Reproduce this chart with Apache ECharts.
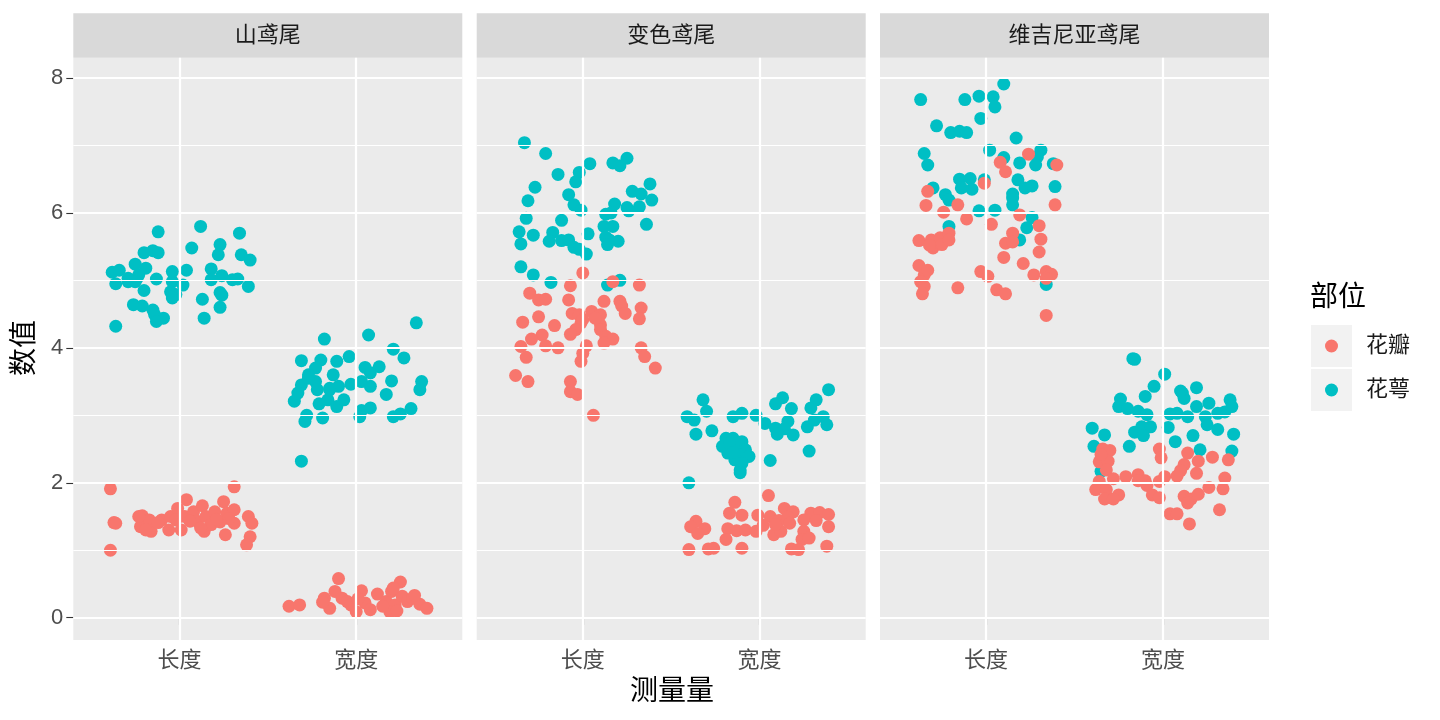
<!DOCTYPE html>
<html>
<head>
<meta charset="utf-8">
<script src="https://cdn.jsdelivr.net/npm/echarts@6/dist/echarts.min.js"></script>
<style>html,body{margin:0;padding:0;background:#fff}#c{width:1440px;height:720px}</style>
</head>
<body>
<div id="c"></div>
<script>
// facet names, categories, parts
const facets = ['山鸢尾', '变色鸢尾', '维吉尼亚鸢尾'];
const measures = ['长度', '宽度'];
const parts = ['花瓣', '花萼'];
const yTicks = [0, 2, 4, 6, 8];

// [jitter offset, value] pairs
const setosaSepalLength = [[-0.12,5.72],[0.12,5.80],[0.34,5.70],[0.07,5.48],[0.23,5.53],[0.22,5.38],[-0.20,5.41],[-0.15,5.44],[-0.12,5.41],[0.35,5.38],[0.40,5.30],[-0.25,5.24],[-0.19,5.18],[-0.38,5.12],[-0.34,5.15],[-0.36,4.95],[-0.29,5.03],[-0.24,5.03],[-0.23,5.08],[-0.13,5.02],[-0.04,5.13],[0.04,5.15],[-0.04,4.98],[0.02,4.93],[-0.05,4.83],[-0.02,4.79],[-0.04,4.74],[0.18,5.17],[0.18,5.01],[0.24,5.07],[0.30,5.01],[0.33,5.02],[0.39,4.91],[0.23,4.82],[0.24,4.78],[-0.20,4.85],[0.13,4.72],[-0.26,4.64],[-0.21,4.62],[-0.15,4.56],[-0.14,4.49],[-0.09,4.44],[-0.13,4.39],[0.23,4.60],[0.14,4.44],[-0.36,4.32],[-0.29,4.98],[-0.25,4.98]];
const setosaPetalLength = [[-0.39,1.91],[-0.37,1.41],[-0.36,1.40],[-0.39,1.00],[0.31,1.94],[-0.21,1.51],[-0.22,1.35],[-0.17,1.45],[-0.16,1.28],[-0.19,1.30],[-0.10,1.45],[-0.06,1.30],[-0.05,1.50],[-0.01,1.62],[0.04,1.75],[0.01,1.30],[0.03,1.50],[0.08,1.57],[0.10,1.43],[0.13,1.66],[0.15,1.50],[0.14,1.28],[0.18,1.38],[0.20,1.57],[0.25,1.72],[0.27,1.55],[0.26,1.23],[0.31,1.60],[0.31,1.40],[0.28,1.47],[0.39,1.50],[0.41,1.40],[0.40,1.20],[0.38,1.08],[0.23,1.42],[-0.02,1.45],[0.06,1.43],[-0.12,1.41],[0.21,1.46],[0.12,1.33],[-0.23,1.50]];
const setosaSepalWidth = [[-0.18,4.13],[0.07,4.19],[0.34,4.37],[-0.31,3.81],[-0.20,3.82],[-0.11,3.80],[-0.04,3.87],[0.21,3.98],[0.27,3.85],[-0.23,3.70],[-0.27,3.60],[-0.13,3.60],[0.05,3.71],[0.13,3.72],[0.08,3.63],[-0.31,3.45],[-0.23,3.50],[-0.22,3.38],[-0.15,3.40],[-0.10,3.43],[-0.03,3.46],[0.03,3.50],[0.08,3.43],[0.20,3.51],[0.37,3.50],[0.36,3.38],[-0.35,3.21],[-0.33,3.33],[-0.21,3.17],[-0.16,3.23],[-0.11,3.13],[-0.07,3.23],[0.17,3.31],[0.03,3.07],[0.02,2.98],[0.08,3.11],[-0.28,3.00],[-0.29,2.91],[-0.19,2.96],[0.21,2.98],[0.25,3.02],[0.31,3.10],[-0.31,2.32],[-0.15,3.38],[-0.27,3.55]];
const setosaPetalWidth = [[-0.38,0.17],[-0.32,0.19],[-0.10,0.58],[-0.18,0.29],[-0.12,0.39],[-0.15,0.14],[-0.08,0.29],[-0.05,0.24],[0.00,0.09],[-0.03,0.19],[0.03,0.40],[0.05,0.22],[0.08,0.12],[0.12,0.35],[0.17,0.24],[0.20,0.39],[0.25,0.53],[0.22,0.19],[0.26,0.32],[0.29,0.24],[0.32,0.29],[0.36,0.20],[0.40,0.14],[0.19,0.09],[0.23,0.10],[-0.19,0.23],[0.01,0.28],[0.15,0.17],[0.21,0.44],[0.33,0.33]];

const versicolorSepalLength = [[-0.33,7.04],[-0.21,6.88],[0.04,6.73],[0.17,6.74],[0.21,6.70],[0.25,6.81],[-0.14,6.57],[-0.02,6.60],[-0.04,6.46],[-0.27,6.38],[0.38,6.43],[0.28,6.32],[0.33,6.28],[0.39,6.19],[-0.08,6.27],[-0.31,6.18],[-0.05,6.12],[-0.01,6.04],[0.18,6.13],[0.25,6.08],[0.32,6.09],[0.26,6.03],[-0.32,5.92],[-0.12,5.89],[0.13,5.98],[0.16,6.00],[-0.36,5.72],[-0.35,5.54],[-0.28,5.67],[-0.17,5.71],[-0.19,5.58],[-0.12,5.59],[-0.08,5.60],[-0.05,5.49],[-0.02,5.46],[0.02,5.39],[0.03,5.69],[0.12,5.80],[0.17,5.80],[0.36,5.83],[0.13,5.64],[0.15,5.60],[0.20,5.58],[0.14,5.53],[-0.35,5.20],[-0.28,5.08],[-0.18,4.97],[0.21,5.00],[0.14,4.93]];
const versicolorPetalLength = [[0.00,5.11],[-0.07,4.92],[0.17,4.98],[0.32,4.93],[-0.30,4.81],[-0.25,4.71],[-0.21,4.72],[-0.08,4.71],[0.12,4.69],[0.21,4.69],[0.22,4.62],[0.33,4.59],[0.32,4.43],[0.24,4.51],[-0.06,4.51],[-0.02,4.49],[0.05,4.54],[0.10,4.49],[-0.25,4.46],[-0.34,4.38],[-0.16,4.33],[-0.01,4.37],[0.10,4.34],[-0.04,4.27],[0.10,4.27],[-0.23,4.19],[-0.29,4.13],[-0.07,4.20],[0.13,4.17],[0.17,4.13],[0.12,4.07],[-0.35,4.02],[-0.21,4.03],[-0.14,4.00],[0.02,4.03],[0.33,4.00],[-0.32,3.86],[0.00,3.92],[-0.01,3.80],[0.35,3.87],[0.41,3.70],[-0.38,3.59],[-0.31,3.50],[-0.07,3.50],[-0.07,3.35],[-0.03,3.31],[0.06,3.00],[0.00,4.42],[0.07,4.44]];
const versicolorSepalWidth = [[0.39,3.38],[-0.32,3.23],[0.13,3.26],[0.09,3.17],[0.32,3.23],[0.18,3.10],[0.29,3.11],[-0.30,3.06],[-0.10,3.03],[-0.15,2.98],[-0.02,3.00],[-0.41,2.98],[-0.37,2.93],[0.03,2.88],[0.09,2.81],[0.16,2.91],[0.14,2.80],[0.19,2.71],[0.27,2.83],[0.31,2.93],[0.36,2.98],[0.38,2.86],[0.10,2.72],[-0.36,2.72],[-0.27,2.77],[-0.19,2.66],[-0.15,2.66],[-0.10,2.61],[-0.21,2.54],[-0.13,2.51],[-0.08,2.49],[-0.18,2.44],[-0.10,2.41],[-0.06,2.39],[-0.14,2.34],[-0.10,2.29],[-0.11,2.19],[-0.11,2.15],[0.28,2.47],[0.06,2.33],[-0.40,2.00],[-0.17,2.59],[-0.15,2.45]];
const versicolorPetalWidth = [[0.05,1.81],[-0.14,1.71],[-0.17,1.55],[-0.10,1.52],[-0.01,1.52],[0.06,1.50],[0.14,1.62],[0.19,1.57],[0.29,1.55],[0.34,1.56],[0.39,1.53],[-0.36,1.43],[0.09,1.43],[0.11,1.44],[0.16,1.49],[0.25,1.45],[0.32,1.44],[-0.39,1.35],[-0.31,1.32],[-0.18,1.32],[-0.13,1.29],[-0.08,1.30],[-0.02,1.28],[0.02,1.37],[0.08,1.23],[0.12,1.28],[0.25,1.28],[0.39,1.35],[-0.35,1.25],[-0.19,1.16],[0.24,1.16],[0.28,1.18],[-0.40,1.01],[-0.29,1.02],[-0.26,1.03],[-0.10,1.03],[0.18,1.02],[0.22,1.01],[0.38,1.06],[0.09,1.38],[0.17,1.40]];

const virginicaSepalLength = [[0.10,7.91],[-0.37,7.68],[-0.12,7.68],[-0.04,7.73],[0.04,7.72],[0.05,7.57],[-0.03,7.40],[-0.28,7.29],[-0.20,7.19],[-0.15,7.21],[-0.11,7.19],[0.17,7.11],[-0.35,6.88],[-0.33,6.71],[0.02,6.93],[0.10,6.82],[0.31,6.93],[0.29,6.83],[0.19,6.74],[0.28,6.71],[0.38,6.73],[-0.15,6.50],[-0.09,6.51],[-0.14,6.37],[-0.08,6.35],[-0.30,6.37],[-0.23,6.27],[-0.21,6.19],[0.18,6.49],[0.22,6.37],[0.26,6.40],[0.15,6.28],[0.39,6.39],[-0.01,6.49],[0.15,6.22],[-0.04,6.03],[0.05,6.04],[0.15,6.12],[0.26,5.93],[0.23,5.78],[0.19,5.60],[-0.21,5.80],[0.34,4.94]];
const virginicaPetalLength = [[0.24,6.87],[0.08,6.75],[0.11,6.61],[0.40,6.71],[-0.01,6.44],[-0.33,6.32],[-0.34,6.11],[-0.16,6.12],[-0.24,6.01],[0.39,6.12],[-0.11,5.91],[0.03,5.83],[0.19,5.97],[0.30,5.81],[-0.38,5.59],[-0.31,5.60],[-0.26,5.63],[-0.21,5.70],[-0.30,5.48],[-0.25,5.53],[-0.21,5.60],[-0.32,5.52],[0.15,5.70],[0.11,5.55],[0.15,5.57],[0.31,5.61],[0.30,5.42],[0.10,5.34],[0.21,5.25],[-0.38,5.22],[-0.35,5.08],[-0.37,4.98],[-0.35,4.91],[-0.36,4.80],[-0.03,5.13],[0.01,5.06],[-0.16,4.89],[0.06,4.86],[0.11,4.80],[0.27,5.08],[0.34,5.13],[0.37,5.09],[0.34,4.48],[-0.33,5.15],[0.34,5.03]];
const virginicaSepalWidth = [[-0.17,3.84],[-0.16,3.83],[0.01,3.61],[-0.05,3.43],[0.19,3.41],[-0.24,3.24],[-0.10,3.28],[0.11,3.33],[0.12,3.25],[0.38,3.23],[0.26,3.18],[-0.25,3.13],[-0.20,3.10],[-0.14,3.06],[-0.09,3.01],[0.04,3.02],[0.08,3.03],[0.14,2.98],[0.19,3.13],[0.24,2.98],[0.31,3.03],[0.35,3.05],[0.39,3.13],[-0.40,2.81],[-0.33,2.71],[-0.39,2.54],[-0.19,2.54],[-0.16,2.75],[-0.12,2.83],[-0.07,2.83],[0.03,2.82],[0.07,2.61],[0.17,2.70],[0.25,2.86],[0.31,2.79],[0.40,2.72],[0.39,2.47],[0.21,2.49],[-0.35,2.17],[-0.11,2.70],[0.10,3.36]];
const virginicaPetalWidth = [[-0.34,2.50],[-0.30,2.48],[-0.02,2.50],[-0.01,2.37],[0.14,2.44],[0.28,2.38],[0.37,2.34],[-0.36,2.31],[-0.31,2.32],[0.20,2.32],[0.12,2.27],[-0.32,2.19],[0.10,2.18],[0.19,2.14],[0.08,2.10],[-0.21,2.09],[-0.14,2.12],[0.01,2.09],[-0.28,2.06],[-0.36,2.02],[-0.10,2.03],[-0.09,1.96],[-0.02,2.02],[0.35,2.07],[0.34,1.91],[0.26,1.93],[-0.38,1.90],[-0.32,1.90],[-0.25,1.82],[-0.33,1.76],[-0.28,1.76],[-0.06,1.82],[-0.02,1.78],[0.12,1.80],[0.16,1.76],[0.20,1.83],[0.14,1.70],[0.32,1.60],[0.04,1.54],[0.08,1.54],[0.15,1.39],[-0.35,2.42],[-0.14,2.03]];

const petalData = [
  [setosaPetalLength, setosaPetalWidth],
  [versicolorPetalLength, versicolorPetalWidth],
  [virginicaPetalLength, virginicaPetalWidth]
];
const sepalData = [
  [setosaSepalLength, setosaSepalWidth],
  [versicolorSepalLength, versicolorSepalWidth],
  [virginicaSepalLength, virginicaSepalWidth]
];

const colors = {'花瓣': '#F8766D', '花萼': '#00BFC4'};
const FONT = "'Liberation Sans', 'Noto Sans CJK SC', sans-serif";
const gridLefts = [73.3, 476.7, 880];
const gridW = 389;
const gridTop = 57.7;
const gridH = 582.3;

function toPoints(pair) {
  return pair[0].map(d => [1 + d[0], d[1]]).concat(pair[1].map(d => [2 + d[0], d[1]]));
}

const grids = [], xAxes = [], yAxes = [], series = [], graphics = [];
facets.forEach((name, i) => {
  grids.push({left: gridLefts[i], top: gridTop, width: gridW, height: gridH,
    show: true, backgroundColor: '#EBEBEB', borderWidth: 0});
  xAxes.push({gridIndex: i, type: 'value', min: 0.4, max: 2.6,
    axisLine: {show: false}, splitLine: {show: false},
    axisTick: {show: true, customValues: [1, 2], length: 7, lineStyle: {color: '#333333', width: 1.1}},
    axisLabel: {customValues: [1, 2], formatter: v => measures[Math.round(v) - 1],
      color: '#4D4D4D', fontSize: 22, fontFamily: FONT, margin: 10}});
  yAxes.push({gridIndex: i, type: 'value', min: -0.33, max: 8.3,
    axisLine: {show: false}, splitLine: {show: false},
    axisTick: {show: i === 0, customValues: yTicks, length: 7, lineStyle: {color: '#333333', width: 1.1}},
    axisLabel: {show: i === 0, customValues: yTicks, color: '#4D4D4D', fontSize: 22, fontFamily: FONT, margin: 10}});
  // grid lines
  const lines = [];
  [1, 3, 5, 7].forEach(v => lines.push({yAxis: v, lineStyle: {width: 1.1}}));
  yTicks.forEach(v => lines.push({yAxis: v, lineStyle: {width: 2.2}}));
  [1, 2].forEach(v => lines.push({xAxis: v, lineStyle: {width: 2.2}}));
  series.push({type: 'scatter', xAxisIndex: i, yAxisIndex: i, data: [], z: 1, silent: true,
    markLine: {silent: true, symbol: ['none', 'none'], label: {show: false}, animation: false,
      lineStyle: {color: '#FFFFFF', type: 'solid'}, data: lines}});
  series.push({name: '花萼', type: 'scatter', xAxisIndex: i, yAxisIndex: i, z: 3,
    symbolSize: 13, itemStyle: {color: colors['花萼'], opacity: 1}, data: toPoints(sepalData[i])});
  series.push({name: '花瓣', type: 'scatter', xAxisIndex: i, yAxisIndex: i, z: 3,
    symbolSize: 13, itemStyle: {color: colors['花瓣'], opacity: 1}, data: toPoints(petalData[i])});
  // strip
  graphics.push({type: 'rect', shape: {x: gridLefts[i], y: 13.3, width: gridW, height: 44.4},
    style: {fill: '#D9D9D9'}, silent: true});
  graphics.push({type: 'text', x: gridLefts[i] + gridW / 2, y: 35.5,
    style: {text: name, fontSize: 22, fontFamily: FONT, fill: '#1A1A1A', align: 'center', verticalAlign: 'middle'}});
});

// axis titles
graphics.push({type: 'text', x: 672, y: 692, style: {text: '测量量', fontSize: 28, fontFamily: FONT, fill: '#000', align: 'center', verticalAlign: 'middle'}});
graphics.push({type: 'text', x: 25, y: 348, rotation: Math.PI / 2, style: {text: '数值', fontSize: 28, fontFamily: FONT, fill: '#000', align: 'center', verticalAlign: 'middle'}});
// legend
graphics.push({type: 'text', x: 1310, y: 298, style: {text: '部位', fontSize: 28, fontFamily: FONT, fill: '#000', align: 'left', verticalAlign: 'middle'}});
parts.forEach((p, k) => {
  const cy = 346 + k * 44;
  graphics.push({type: 'rect', shape: {x: 1311, y: cy - 21, width: 41, height: 42}, style: {fill: '#F2F2F2'}});
  graphics.push({type: 'circle', shape: {cx: 1331.5, cy: cy, r: 6.5}, style: {fill: colors[p]}});
  graphics.push({type: 'text', x: 1366, y: cy, style: {text: p, fontSize: 22, fontFamily: FONT, fill: '#1A1A1A', align: 'left', verticalAlign: 'middle'}});
});

const chart = echarts.init(document.getElementById('c'), null, {renderer: 'canvas'});
chart.setOption({
  animation: false,
  backgroundColor: '#FFFFFF',
  grid: grids, xAxis: xAxes, yAxis: yAxes, series: series,
  graphic: graphics
});
</script>
</body>
</html>
